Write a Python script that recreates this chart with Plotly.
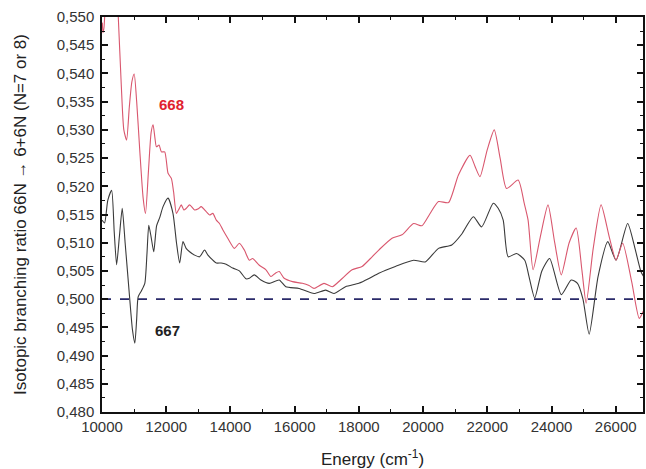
import plotly.graph_objects as go

# ---- data ----
energy_668 = [10010, 10030, 10060, 10150, 10350, 10450, 10507, 10600, 10680, 10766, 10850, 10930,
              11003, 11080, 11180, 11280, 11355, 11450, 11530, 11591, 11650, 11695, 11777, 11851,
              11953, 12057, 12160, 12230, 12316, 12400, 12470, 12550, 12626, 12729, 12884, 13000,
              13090, 13246, 13349, 13452, 13560, 13659, 13762, 13917, 14124, 14279, 14434, 14589,
              14692, 14899, 15107, 15261, 15400, 15519, 15674, 15932, 16242, 16450, 16605, 16915,
              17173, 17429, 17790, 18101, 18412, 18620, 19033, 19343, 19705, 19963, 20200, 20481,
              20791, 21101, 21463, 21620, 21773, 22000, 22217, 22400, 22600, 22961, 23150, 23271,
              23426, 23650, 23891, 24100, 24304, 24550, 24769, 24950, 25080, 25300, 25545, 25800,
              26010, 26217, 26500, 26732, 26870]
ratio_668 = [0.5490, 0.5472, 0.5480, 0.5560, 0.5620, 0.5560, 0.5500, 0.5380, 0.5300, 0.5282, 0.5340, 0.5385,
             0.5399, 0.5350, 0.5260, 0.5180, 0.5152, 0.5230, 0.5295, 0.5309, 0.5285, 0.5270, 0.5273, 0.5261,
             0.5261, 0.5223, 0.5214, 0.5190, 0.5152, 0.5160, 0.5167, 0.5158, 0.5161, 0.5167, 0.5158, 0.5160,
             0.5164, 0.5155, 0.5149, 0.5152, 0.5140, 0.5134, 0.5123, 0.5108, 0.5090, 0.5099, 0.5087, 0.5069,
             0.5072, 0.5060, 0.5052, 0.5040, 0.5046, 0.5049, 0.5037, 0.5031, 0.5028, 0.5024, 0.5019, 0.5028,
             0.5022, 0.5034, 0.5052, 0.5058, 0.5075, 0.5087, 0.5108, 0.5114, 0.5134, 0.5130, 0.5150, 0.5173,
             0.5171, 0.5220, 0.5255, 0.5235, 0.5217, 0.5265, 0.5300, 0.5250, 0.5196, 0.5211, 0.5170, 0.5140,
             0.5052, 0.5110, 0.5167, 0.5100, 0.5043, 0.5100, 0.5126, 0.5050, 0.4993, 0.5090, 0.5167, 0.5110,
             0.5069, 0.5099, 0.5030, 0.4966, 0.4980]

energy_667 = [10000, 10080, 10180, 10300, 10380, 10455, 10540, 10630, 10720, 10850, 10950, 11023,
              11080, 11126, 11230, 11333, 11400, 11457, 11530, 11612, 11700, 11800, 11901, 12057,
              12210, 12320, 12419, 12522, 12620, 12729, 12884, 13039, 13194, 13300, 13452, 13560,
              13711, 13866, 14071, 14279, 14486, 14589, 14744, 14950, 15209, 15519, 15726, 16140,
              16605, 16967, 17225, 17584, 17998, 18300, 18620, 19137, 19705, 20068, 20481, 20893,
              21200, 21566, 21823, 22186, 22340, 22496, 22651, 22909, 23167, 23300, 23477, 23700,
              23942, 24304, 24614, 24810, 24980, 25173, 25450, 25752, 26010, 26372, 26600, 26785, 26870]
ratio_667 = [0.5140, 0.5135, 0.5175, 0.5193, 0.5120, 0.5061, 0.5110, 0.5161, 0.5100, 0.5010, 0.4945, 0.4922,
             0.4965, 0.5004, 0.5015, 0.5028, 0.5080, 0.5131, 0.5110, 0.5084, 0.5130, 0.5145, 0.5164, 0.5179,
             0.5152, 0.5100, 0.5064, 0.5102, 0.5090, 0.5084, 0.5078, 0.5075, 0.5087, 0.5078, 0.5069, 0.5064,
             0.5064, 0.5062, 0.5055, 0.5050, 0.5036, 0.5037, 0.5043, 0.5034, 0.5028, 0.5034, 0.5022, 0.5019,
             0.5010, 0.5016, 0.5010, 0.5022, 0.5028, 0.5036, 0.5046, 0.5058, 0.5069, 0.5066, 0.5090, 0.5096,
             0.5115, 0.5146, 0.5128, 0.5170, 0.5161, 0.5140, 0.5075, 0.5081, 0.5069, 0.5040, 0.5002, 0.5050,
             0.5072, 0.5008, 0.5034, 0.5028, 0.5000, 0.4938, 0.5040, 0.5102, 0.5069, 0.5134, 0.5090, 0.5049, 0.5040]

reference_ratio = 0.500
x_range = [10000, 26850]
y_range = [0.480, 0.550]

x_tickvals = [10000, 12000, 14000, 16000, 18000, 20000, 22000, 24000, 26000]
x_ticktext = ["10000", "12000", "14000", "16000", "18000", "20000", "22000", "24000", "26000"]
y_tickvals = [0.480, 0.485, 0.490, 0.495, 0.500, 0.505, 0.510, 0.515, 0.520, 0.525,
              0.530, 0.535, 0.540, 0.545, 0.550]
y_ticktext = ["0,480", "0,485", "0,490", "0,495", "0,500", "0,505", "0,510", "0,515", "0,520", "0,525",
              "0,530", "0,535", "0,540", "0,545", "0,550"]

labels = ["668", "667"]
label_x = [12150, 12050]
label_y = [0.5345, 0.4945]

# ---- figure ----
FONT = "Liberation Sans, Arial"
fig = go.Figure()
fig.add_trace(go.Scatter(x=x_range, y=[reference_ratio, reference_ratio], mode="lines",
                         line=dict(color="#2a2a6a", width=1.6, dash="dash"), hoverinfo="skip"))
fig.add_trace(go.Scatter(x=energy_667, y=ratio_667, mode="lines",
                         line=dict(color="#3a3a3a", width=1.1, shape="spline", smoothing=0.6)))
fig.add_trace(go.Scatter(x=energy_668, y=ratio_668, mode="lines",
                         line=dict(color="#d9576e", width=1.1, shape="spline", smoothing=0.6)))

label_colors = ["#e0222e", "#222222"]
for t, lx, ly, c in zip(labels, label_x, label_y, label_colors):
    fig.add_annotation(x=lx, y=ly, text="<b>" + t + "</b>", showarrow=False,
                       font=dict(family=FONT, size=15, color=c))

axis_common = dict(showline=True, linecolor="#111111", linewidth=1.5, mirror="allticks",
                   ticks="inside", ticklen=6, tickwidth=1.5, tickcolor="#111111",
                   showgrid=False, zeroline=False,
                   tickfont=dict(family=FONT, size=15, color="#333333"))

fig.update_xaxes(range=x_range, tickvals=x_tickvals, ticktext=x_ticktext,
                 minor=dict(ticks="inside", ticklen=3, tickwidth=1.2, tickcolor="#111111", dtick=1000,
                            showgrid=False),
                 title=dict(text="Energy (cm<sup>-1</sup>)", standoff=20,
                            font=dict(family=FONT, size=17, color="#222222")),
                 **axis_common)
fig.update_yaxes(range=y_range, tickvals=y_tickvals, ticktext=y_ticktext, ticklabelstandoff=3,
                 minor=dict(ticks="inside", ticklen=3, tickwidth=1.2, tickcolor="#111111", dtick=0.0025,
                            showgrid=False),
                 title=dict(text="Isotopic branching ratio 66N \u2192 6+6N (N=7 or 8)", standoff=26,
                            font=dict(family=FONT, size=17, color="#222222")),
                 **axis_common)

fig.update_layout(width=646, height=469, showlegend=False,
                  plot_bgcolor="white", paper_bgcolor="white",
                  margin=dict(l=102, r=1, t=17, b=57))

fig.write_html("out.html")
